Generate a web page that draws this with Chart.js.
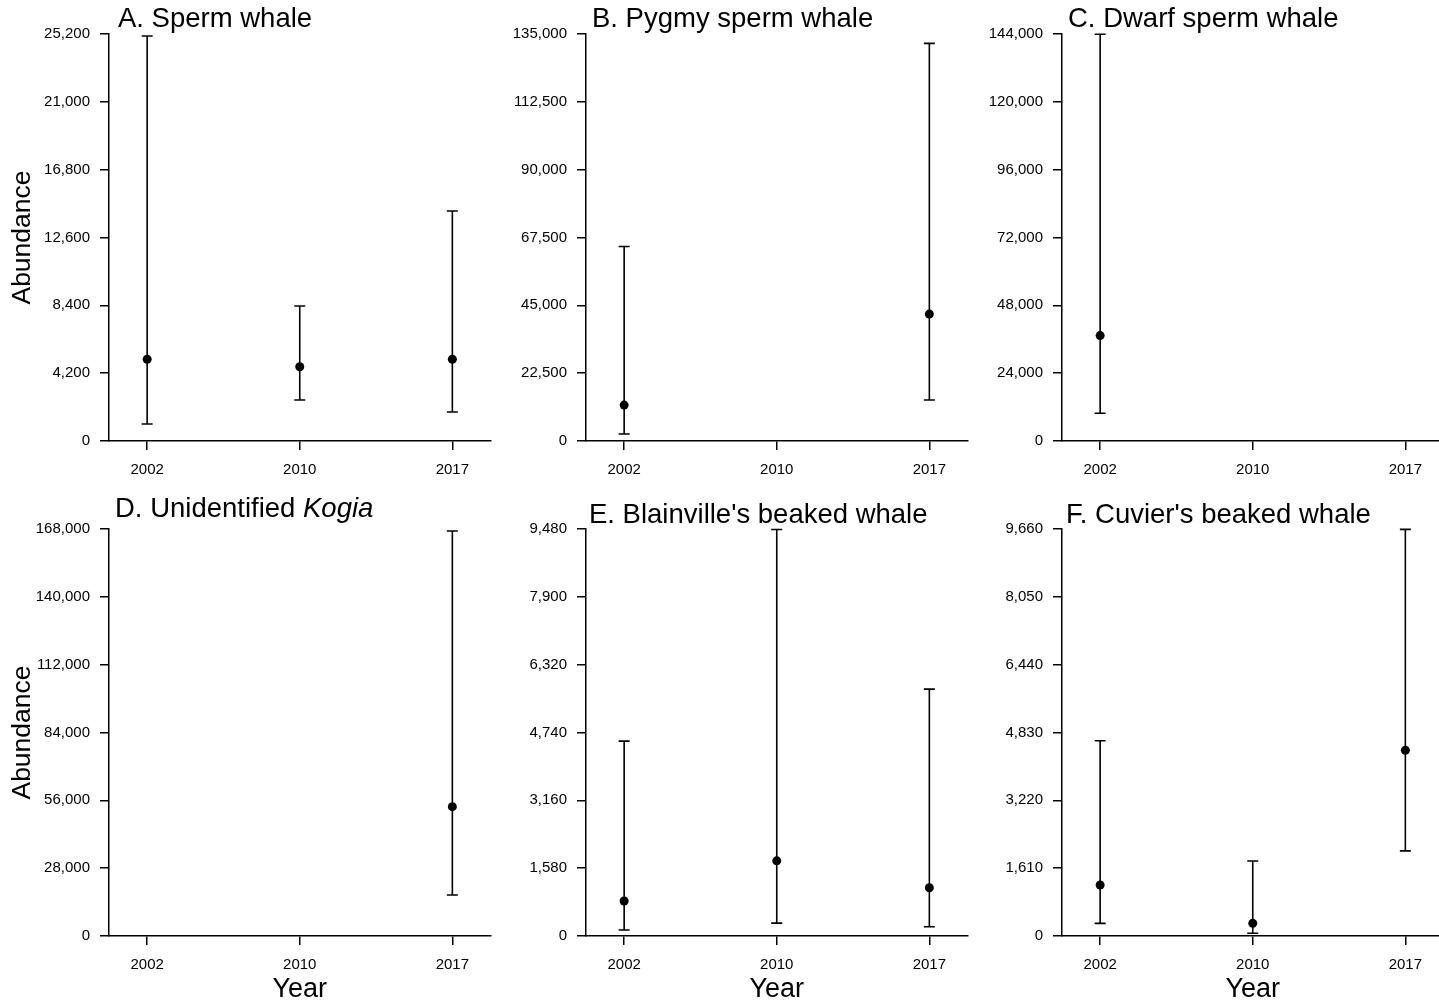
<!DOCTYPE html>
<html>
<head>
<meta charset="utf-8">
<title>Abundance estimates</title>
<script src="https://cdn.jsdelivr.net/npm/chart.js@4.4.1/dist/chart.umd.min.js"></script>
<style>
  html, body { margin: 0; padding: 0; background: #fff; overflow: hidden; }
  #wrap { position: relative; width: 1439px; height: 1003px; overflow: hidden; }
  #wrap canvas { position: absolute; }
</style>
</head>
<body>
<div id="wrap"></div>
<script>
// survey years (categorical x positions 1..3)
const years = ['2002', '2010', '2017'];

// A. Sperm whale
const spermEst  = [5060, 4600, 5060];
const spermLow  = [1050, 2540, 1800];
const spermHigh = [25080, 8360, 14240];
const spermTicks = [0, 4200, 8400, 12600, 16800, 21000, 25200];

// B. Pygmy sperm whale
const pygmyEst  = [11900, null, 42100];
const pygmyLow  = [2300, null, 13600];
const pygmyHigh = [64500, null, 131900];
const pygmyTicks = [0, 22500, 45000, 67500, 90000, 112500, 135000];

// C. Dwarf sperm whale
const dwarfEst  = [37300, null, null];
const dwarfLow  = [9800, null, null];
const dwarfHigh = [143900, null, null];
const dwarfTicks = [0, 24000, 48000, 72000, 96000, 120000, 144000];

// D. Unidentified Kogia
const kogiaEst  = [null, null, 53400];
const kogiaLow  = [null, null, 16900];
const kogiaHigh = [null, null, 167200];
const kogiaTicks = [0, 28000, 56000, 84000, 112000, 140000, 168000];

// E. Blainville's beaked whale
const blainEst  = [815, 1750, 1125];
const blainLow  = [140, 300, 215];
const blainHigh = [4540, 9470, 5750];
const blainTicks = [0, 1580, 3160, 4740, 6320, 7900, 9480];

// F. Cuvier's beaked whale
const cuvierEst  = [1210, 300, 4410];
const cuvierLow  = [300, 65, 2020];
const cuvierHigh = [4635, 1780, 9650];
const cuvierTicks = [0, 1610, 3220, 4830, 6440, 8050, 9660];

const FONT = '"Liberation Sans", Arial, sans-serif';
const INK = '#000';

// vertical bar + caps from low to high, drawn through the chart scales
const errorBars = {
  id: 'errorBars',
  beforeDatasetsDraw(chart) {
    const { ctx, scales: { x, y } } = chart;
    ctx.save();
    ctx.strokeStyle = INK;
    ctx.lineWidth = 1.6;
    chart.data.datasets[0].data.forEach(p => {
      const px = x.getPixelForValue(p.x);
      const lo = y.getPixelForValue(p.lo);
      const hi = y.getPixelForValue(p.hi);
      ctx.beginPath();
      ctx.moveTo(px, lo); ctx.lineTo(px, hi);
      ctx.moveTo(px - 5.5, lo); ctx.lineTo(px + 5.5, lo);
      ctx.moveTo(px - 5.5, hi); ctx.lineTo(px + 5.5, hi);
      ctx.stroke();
    });
    ctx.restore();
  }
};

// panel title, left aligned just right of the y axis (supports italic runs)
const panelTitle = {
  id: 'panelTitle',
  afterDraw(chart, args, opts) {
    const { ctx, chartArea } = chart;
    let x = chartArea.left + opts.dx;
    const y = chartArea.top + opts.dy;
    ctx.save();
    ctx.fillStyle = INK;
    ctx.textAlign = 'left';
    ctx.textBaseline = 'alphabetic';
    opts.parts.forEach(p => {
      ctx.font = (p.italic ? 'italic ' : '') + '27.5px ' + FONT;
      ctx.fillText(p.text, x, y);
      x += ctx.measureText(p.text).width;
    });
    ctx.restore();
  }
};

const colLeft = [0, 477, 953];     // canvas left per column
const rowTop  = [0, 490];          // canvas top per row
const rowH    = [490, 513];
const rowPadTop = [34, 39];
const rowAxisH  = [49, 67];

const panels = [
  { col: 0, row: 0, title: [{ text: 'A. Sperm whale' }], dx: 9, dy: -7,
    est: spermEst, low: spermLow, high: spermHigh, ticks: spermTicks, yTitle: true, xTitle: false },
  { col: 1, row: 0, title: [{ text: 'B. Pygmy sperm whale' }], dx: 6, dy: -7,
    est: pygmyEst, low: pygmyLow, high: pygmyHigh, ticks: pygmyTicks, yTitle: false, xTitle: false },
  { col: 2, row: 0, title: [{ text: 'C. Dwarf sperm whale' }], dx: 6, dy: -7,
    est: dwarfEst, low: dwarfLow, high: dwarfHigh, ticks: dwarfTicks, yTitle: false, xTitle: false },
  { col: 0, row: 1, title: [{ text: 'D. Unidentified ' }, { text: 'Kogia', italic: true }], dx: 6, dy: -12,
    est: kogiaEst, low: kogiaLow, high: kogiaHigh, ticks: kogiaTicks, yTitle: true, xTitle: true },
  { col: 1, row: 1, title: [{ text: "E. Blainville's beaked whale" }], dx: 3, dy: -6,
    est: blainEst, low: blainLow, high: blainHigh, ticks: blainTicks, yTitle: false, xTitle: true },
  { col: 2, row: 1, title: [{ text: "F. Cuvier's beaked whale" }], dx: 4, dy: -6,
    est: cuvierEst, low: cuvierLow, high: cuvierHigh, ticks: cuvierTicks, yTitle: false, xTitle: true }
];

const wrap = document.getElementById('wrap');

panels.forEach(p => {
  const cv = document.createElement('canvas');
  cv.width = 495;
  cv.height = rowH[p.row];
  cv.style.left = colLeft[p.col] + 'px';
  cv.style.top = rowTop[p.row] + 'px';
  wrap.appendChild(cv);

  const pts = [];
  years.forEach((yr, i) => {
    if (p.est[i] != null) pts.push({ x: i + 1, y: p.est[i], lo: p.low[i], hi: p.high[i] });
  });

  new Chart(cv, {
    type: 'scatter',
    data: {
      datasets: [{
        data: pts,
        backgroundColor: INK,
        borderColor: INK,
        pointRadius: 4.5,
        pointBorderWidth: 0
      }]
    },
    options: {
      responsive: false,
      devicePixelRatio: 1,
      animation: false,
      clip: false,
      layout: { padding: { top: rowPadTop[p.row], right: 2, bottom: 0, left: 0 } },
      scales: {
        x: {
          type: 'linear',
          min: 0.75,
          max: 3.25,
          afterFit: s => { s.height = rowAxisH[p.row]; },
          afterBuildTicks: s => { s.ticks = years.map((_, i) => ({ value: i + 1 })); },
          ticks: {
            autoSkip: false,
            maxRotation: 0,
            padding: 11,
            color: INK,
            font: { family: FONT, size: 15 },
            callback: v => years[v - 1]
          },
          grid: { drawOnChartArea: false, tickLength: 9, color: INK, lineWidth: 1.5 },
          border: { display: true, color: INK, width: 1.5 },
          title: {
            display: p.xTitle,
            text: 'Year',
            color: INK,
            padding: 0,
            font: { family: FONT, size: 27, lineHeight: 1 }
          }
        },
        y: {
          min: p.ticks[0],
          max: p.ticks[p.ticks.length - 1],
          afterFit: s => { s.width = 109; },
          afterBuildTicks: s => { s.ticks = p.ticks.map(v => ({ value: v })); },
          ticks: {
            autoSkip: false,
            padding: 10,
            color: INK,
            font: { family: FONT, size: 15 },
            callback: v => v.toLocaleString('en-US')
          },
          grid: { drawOnChartArea: false, tickLength: 9, color: INK, lineWidth: 1.5 },
          border: { display: true, color: INK, width: 1.5 },
          title: {
            display: p.yTitle,
            text: 'Abundance',
            color: INK,
            padding: { top: 7, bottom: 0 },
            font: { family: FONT, size: 26.5 }
          }
        }
      },
      plugins: {
        legend: { display: false },
        tooltip: { enabled: false },
        panelTitle: { parts: p.title, dx: p.dx, dy: p.dy }
      }
    },
    plugins: [errorBars, panelTitle]
  });
});
</script>
</body>
</html>
